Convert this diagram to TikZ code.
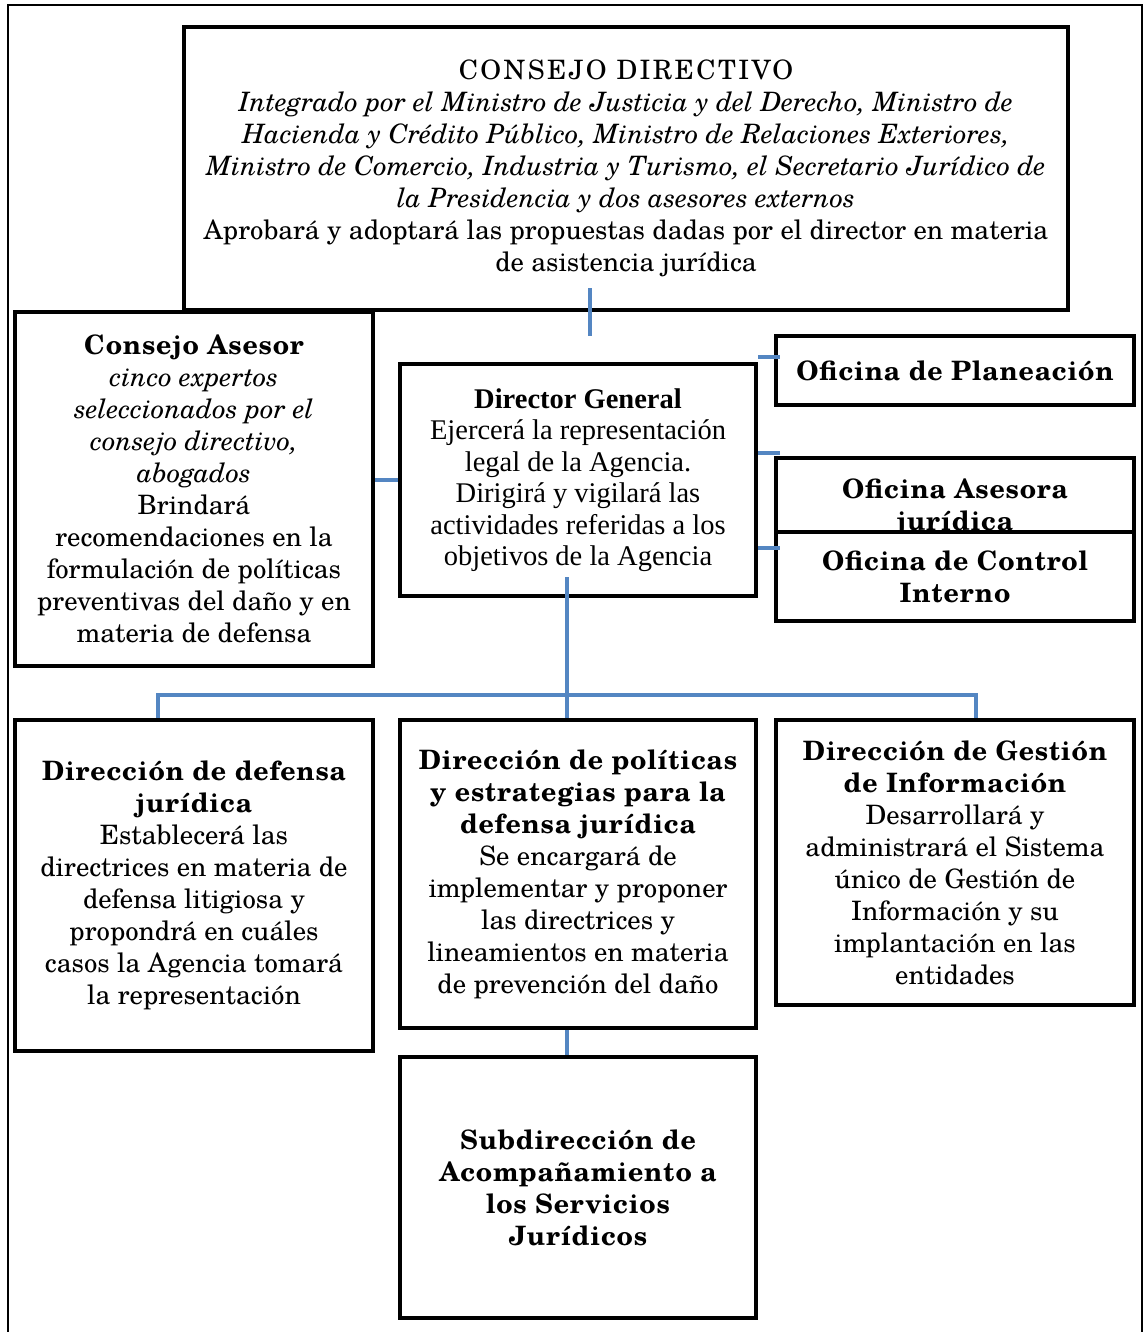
\documentclass[tikz,border=0pt]{standalone}
\usepackage{fontspec}
\setmainfont{TeX Gyre Schola}
\newfontfamily\espaciada[LetterSpace=3]{TeX Gyre Schola}
\newfontfamily\versal[LetterSpace=9]{TeX Gyre Schola}
\newfontfamily\cambria{Liberation Serif}
\usetikzlibrary{calc,shadows}
\definecolor{azul}{RGB}{84,134,194}
\tikzset{>=stealth,
  caja/.style={draw, line width=4.5pt, fill=white, inner sep=0pt, align=center,
    drop shadow={shadow xshift=2pt, shadow yshift=-2pt, fill=black!30},
    font=\fontsize{26.7}{32}\selectfont},
  enlace/.style={draw=azul, line width=4pt}}
\newcommand{\titulo}[1]{{\espaciada\bfseries #1}}

\begin{document}
\begin{tikzpicture}[x=1pt,y=-1pt]
\useasboundingbox (0,0) rectangle (1146,1332);
\draw[line width=2pt] (8,1332) -- (8,5) -- (1142,5) -- (1142,1332);

\node[caja, minimum width=884pt, minimum height=283pt] (CD) at (626,168.5)
  {{\versal CONSEJO DIRECTIVO}\\
   \textit{Integrado por el Ministro de Justicia y del Derecho, Ministro de}\\
   \textit{Hacienda y Crédito Público, Ministro de Relaciones Exteriores,}\\
   \textit{Ministro de Comercio, Industria y Turismo, el Secretario Jurídico de}\\
   \textit{la Presidencia y dos asesores externos}\\
   Aprobará y adoptará las propuestas dadas por el director en materia\\
   de asistencia jurídica};
\node[caja, minimum width=358pt, minimum height=354pt] (CA) at (194,489)
  {\titulo{Consejo Asesor}\\
   \textit{cinco expertos}\\
   \textit{seleccionados por el}\\
   \textit{consejo directivo,}\\
   \textit{abogados}\\
   Brindará\\
   recomendaciones en la\\
   formulación de políticas\\
   preventivas del daño y en\\
   materia de defensa};
\node[caja, minimum width=356pt, minimum height=232pt,
  font=\cambria\fontsize{28.5}{31.5}\selectfont] (DG) at (578,480)
  {\textbf{Director General}\\
   Ejercerá la representación\\
   legal de la Agencia.\\
   Dirigirá y vigilará las\\
   actividades referidas a los\\
   objetivos de la Agencia};
\node[caja, minimum width=358pt, minimum height=69pt] (OP) at (955,370.5)
  {\titulo{Oficina de Planeación}};
\node[caja, minimum width=358pt, minimum height=98pt] (OA) at (955,507)
  {\titulo{Oficina Asesora}\\ \titulo{jurídica}};
\node[caja, minimum width=358pt, minimum height=89pt] (OC) at (955,576.5)
  {\titulo{Oficina de Control}\\ \titulo{Interno}};
\node[caja, minimum width=358pt, minimum height=331pt] (DD) at (194,885.5)
  {\titulo{Dirección de defensa}\\
   \titulo{jurídica}\\
   Establecerá las\\
   directrices en materia de\\
   defensa litigiosa y\\
   propondrá en cuáles\\
   casos la Agencia tomará\\
   la representación};
\node[caja, minimum width=356pt, minimum height=308pt] (DP) at (578,874)
  {\titulo{Dirección de políticas}\\
   \titulo{y estrategias para la}\\
   \titulo{defensa jurídica}\\
   Se encargará de\\
   implementar y proponer\\
   las directrices y\\
   lineamientos en materia\\
   de prevención del daño};
\node[caja, minimum width=358pt, minimum height=285pt] (DI) at (955,862.5)
  {\titulo{Dirección de Gestión}\\
   \titulo{de Información}\\
   Desarrollará y\\
   administrará el Sistema\\
   único de Gestión de\\
   Información y su\\
   implantación en las\\
   entidades};
\node[caja, minimum width=356pt, minimum height=261pt] (SD) at (578,1187.5)
  {\titulo{Subdirección de}\\
   \titulo{Acompañamiento a}\\
   \titulo{los Servicios}\\
   \titulo{Jurídicos}};

\coordinate (rama) at (567,695);
\draw[enlace] ([xshift=-36pt,yshift=24pt]CD.south) -- ([xshift=-36pt,yshift=-24pt]CD.south);
\draw[enlace] (CA.east |- DG.west) -- (DG.west);
\draw[enlace] ([yshift=5pt]DG.north east) -- ($([yshift=5pt]DG.north east -| OP.west)+(6,0)$);
\draw[enlace] ([yshift=3pt]DG.east |- OA.north) -- ($([yshift=3pt]OA.north west)+(6,0)$);
\draw[enlace] ([yshift=-18pt]DG.east |- OC.north) -- ($([yshift=-18pt]OC.north west)+(6,0)$);
\draw[enlace] ([xshift=-11pt,yshift=21pt]DG.south) -- ([xshift=-11pt]DP.north);
\draw[enlace] ([xshift=-36pt]DD.north) |- (rama) -| ([xshift=21pt]DI.north);
\draw[enlace] ([xshift=-11pt]DP.south) -- ([xshift=-11pt]SD.north);
\end{tikzpicture}
\end{document}
